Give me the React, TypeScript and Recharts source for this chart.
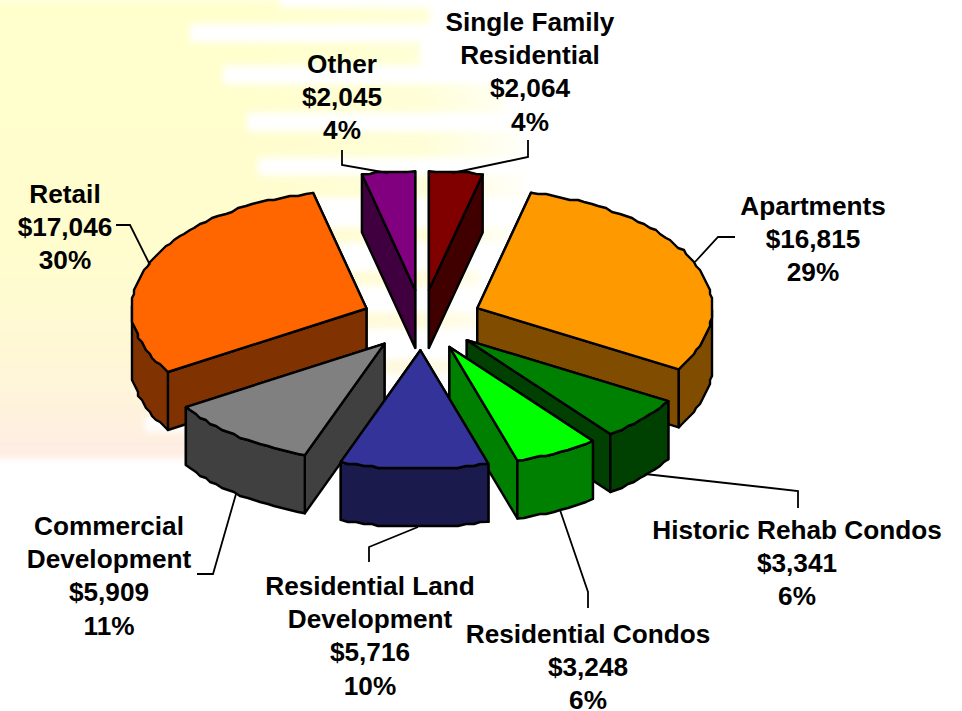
import React from "react";
import { PieChart, Pie } from "recharts";

const categories = ["Single Family Residential", "Apartments", "Historic Rehab Condos", "Residential Condos", "Residential Land Development", "Commercial Development", "Retail", "Other"];
const values = [2064, 16815, 3341, 3248, 5716, 5909, 17046, 2045];
const percentLabels = ["4%", "29%", "6%", "6%", "10%", "11%", "30%", "4%"];
const nameLines = [["Single Family", "Residential"], ["Apartments"], ["Historic Rehab Condos"], ["Residential Condos"], ["Residential Land", "Development"], ["Commercial", "Development"], ["Retail"], ["Other"]];
const topColors = ["#800000", "#FF9900", "#008000", "#00FF00", "#333399", "#808080", "#FF6600", "#800080"];
const wallColors = ["#400000", "#804D00", "#004000", "#008000", "#1A1A4D", "#404040", "#803300", "#400040"];

const data = categories.map((name, i) => ({ name, value: values[i], fill: topColors[i], wall: wallColors[i] }));

// Layout of the manually placed labels: [centre x, first line y]
const labelAnchors = [[530, 22], [813, 206], [797, 530], [588, 634], [370, 586], [109, 526], [65, 194], [342, 64]];
const leaders = [
  "528,140 528,157 452,173",
  "735,237 718,237 695,262",
  "798,508 798,491 645,474",
  "588,608 588,592 560,510",
  "369,562 369,547 418,527",
  "197,574 213,574 236,494",
  "116,225 130,225 150,265",
  "342,150 342,165 388,173",
];
const bgRows = [[0,8,280],[8,23,430],[23,43,190],[43,65,420],[65,85,223],[85,112,505],[112,132,247],[132,157,520],[157,176,258],[176,197,525],[197,228,310],[228,242,510],[242,272,340],[272,285,480],[285,313,340],[313,328,480],[328,360,340],[360,373,470],[373,416,185],[416,432,145],[432,458,300]];

const SQUASH = 0.505;
const DEPTH = 58;
const EXPLODE = 60;
const RAD = Math.PI / 180;
const ptsStr = (p: number[][]) => p.map((q) => `${q[0].toFixed(1)},${q[1].toFixed(1)}`).join(" ");
const GRID = 2;
const ARC_STEP = 2;

function wedge(props: any) {
  const { cx, cy, outerRadius: R, startAngle, endAngle, midAngle } = props;
  const wall = props.wall ?? props.payload?.wall;
  const fill = props.fill ?? props.payload?.fill;
  const ax = cx + EXPLODE * Math.cos(midAngle * RAD);
  const ay = cy - EXPLODE * SQUASH * Math.sin(midAngle * RAD);
  const P = (a: number) => [ax + R * Math.cos(a * RAD), ay - R * SQUASH * Math.sin(a * RAD)];
  const n = Math.max(2, Math.ceil(Math.abs(endAngle - startAngle) / ARC_STEP));
  const arc: number[][] = [];
  const angles: number[] = [];
  for (let i = 0; i <= n; i++) {
    const a = startAngle + ((endAngle - startAngle) * i) / n;
    angles.push(a);
    const p = P(a);
    if (i === 0 || i === n) arc.push(p);
    else arc.push([Math.round(p[0] / GRID) * GRID, Math.round(p[1] / GRID) * GRID]);
  }
  const front = arc.filter((_, i) => {
    const m = ((angles[i] % 360) + 360) % 360;
    return m >= 178 && m <= 362;
  });
  const s = P(startAngle);
  const e = P(endAngle);
  const down = (p: number[]) => [p[0], p[1] + DEPTH];
  const apex = [ax, ay];
  const common = { stroke: "#000", strokeWidth: 2.4, strokeLinejoin: "round" as const };
  const [backEnd, frontEnd] = s[1] > e[1] ? [e, s] : [s, e];
  return (
    <g>
      <polygon points={ptsStr([apex, backEnd, down(backEnd), down(apex)])} fill={wall} {...common} />
      <polygon points={ptsStr([apex, frontEnd, down(frontEnd), down(apex)])} fill={wall} {...common} />
      {front.length > 1 && <polygon points={ptsStr([...front, ...front.slice().reverse().map(down)])} fill={wall} {...common} />}
      <polygon points={ptsStr([apex, ...arc])} fill={fill} {...common} />
    </g>
  );
}

const only = (names: string[]) => (props: any) => {
  const name = props.payload?.name ?? props.name;
  return names.includes(name) ? wedge(props) : <g />;
};

const backShape = only(["Single Family Residential", "Apartments", "Historic Rehab Condos", "Residential Condos", "Retail", "Other"]);
const commercialShape = only(["Commercial Development"]);
const landShape = only(["Residential Land Development"]);

const renderLabel = (p: any) => {
  const i = p.index;
  const [x, y] = labelAnchors[i];
  const lines = [...nameLines[i], "$" + values[i].toLocaleString("en-US"), percentLabels[i]];
  return (
    <text key={i} x={x} y={y} textAnchor="middle" fontFamily="'Liberation Sans', Arial, sans-serif" fontWeight="bold" fontSize={26.2} fill="#000" stroke="none">
      {lines.map((l, k) => (
        <tspan key={k} x={x} y={y + k * 33.2} dominantBaseline="central">{l}</tspan>
      ))}
    </text>
  );
};
const renderLeader = (p: any) => <polyline key={p.index} points={leaders[p.index]} fill="none" stroke="#000" strokeWidth={1.8} />;

const common = { data, dataKey: "value", nameKey: "name", cx: 422, cy: 320, outerRadius: 235, startAngle: 90, endAngle: -270, stroke: "none", isAnimationActive: false } as any;

export default function App() {
  return (
    <div style={{ position: "absolute", left: 0, top: 0, width: 962, height: 711, background: "#fff", overflow: "hidden" }}>
      <svg width={962} height={711} style={{ position: "absolute", left: 0, top: 0 }}>
        <defs>
          <linearGradient id="bgV" gradientUnits="userSpaceOnUse" x1={0} y1={0} x2={0} y2={458}>
            <stop offset="0" stopColor="#FFFFCC" />
            <stop offset="0.6" stopColor="#FFFCCF" />
            <stop offset="0.82" stopColor="#FFF6D8" />
            <stop offset="1" stopColor="#FEEDE4" />
          </linearGradient>
          <linearGradient id="bgH" gradientUnits="userSpaceOnUse" x1={250} y1={0} x2={535} y2={0}>
            <stop offset="0" stopColor="#fff" />
            <stop offset="0.6" stopColor="#ccc" />
            <stop offset="1" stopColor="#111" />
          </linearGradient>
          <mask id="bgM" maskUnits="userSpaceOnUse" x={0} y={0} width={962} height={711}>
            <rect width={962} height={711} fill="url(#bgH)" />
          </mask>
          <filter id="bgB" filterUnits="userSpaceOnUse" x={-10} y={-10} width={980} height={730}>
            <feGaussianBlur stdDeviation={3} />
          </filter>
        </defs>
        <g mask="url(#bgM)">
          <g filter="url(#bgB)">
            {bgRows.map(([y0, y1, x]) => (
              <rect key={y0} x={-10} y={y0 - 0.5} width={x + 10} height={y1 - y0 + 1} fill="url(#bgV)" />
            ))}
          </g>
        </g>
      </svg>
      <div style={{ position: "absolute", left: 0, top: 0 }}>
        <PieChart width={962} height={711} margin={{ top: 0, right: 0, bottom: 0, left: 0 }}>
          <Pie {...common} shape={backShape} />
          <Pie {...common} shape={commercialShape} />
          <Pie {...common} shape={landShape} label={renderLabel} labelLine={renderLeader} />
        </PieChart>
      </div>
    </div>
  );
}
